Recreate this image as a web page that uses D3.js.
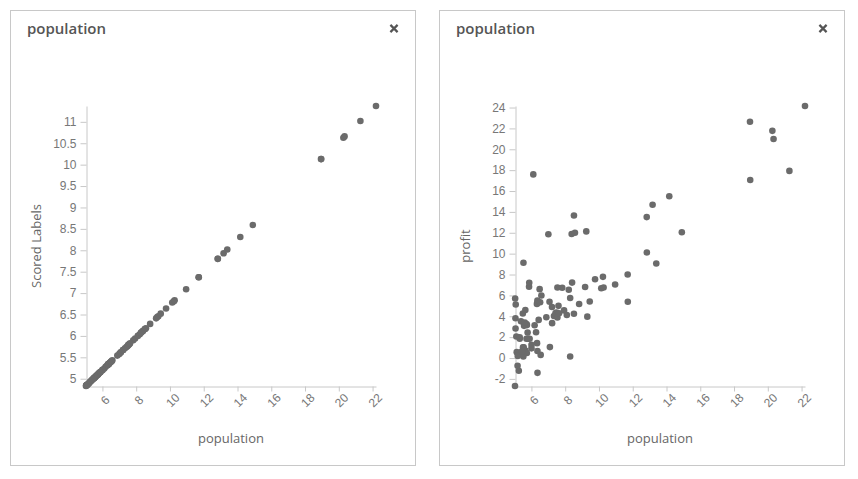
<!DOCTYPE html>
<html>
<head>
<meta charset="utf-8">
<script src="https://cdn.jsdelivr.net/npm/d3@7"></script>
<style>
  html, body { margin: 0; padding: 0; background: #fff; }
  svg { display: block; font-family: "Segoe UI", "Open Sans", "Noto Sans", sans-serif; }
</style>
</head>
<body>
<svg id="chart" width="858" height="479"></svg>
<script>
// ---- data ----
const population = [6.1101,5.5277,8.5186,7.0032,5.8598,8.3829,7.4764,8.5781,6.4862,5.0546,5.7107,14.164,5.734,8.4084,5.6407,5.3794,6.3654,5.1301,6.4296,7.0708,6.1891,20.27,5.4901,6.3261,5.5649,18.945,12.828,10.957,13.176,22.203,5.2524,6.5894,9.2482,5.8918,8.2111,7.9334,8.0959,5.6063,12.836,6.3534,5.4069,6.8825,11.708,5.7737,7.8247,7.0931,5.0702,5.8014,11.7,5.5416,7.5402,5.3077,7.4239,7.6031,6.3328,6.3589,6.2742,5.6397,9.3102,9.4536,8.8254,5.1793,21.279,14.908,18.959,7.2182,8.2951,10.236,5.4994,20.341,10.136,7.3345,6.0062,7.2259,5.0269,6.5479,7.5386,5.0365,10.274,5.1077,5.7292,5.1884,6.3557,9.7687,6.5159,8.5172,9.1802,6.002,5.5204,5.0594,5.7077,7.6366,5.8707,5.3054,8.2934,13.394,5.4369];
const profit = [17.592,9.1302,13.662,11.854,6.8233,11.886,4.3483,12,6.5987,3.8166,3.2522,15.505,3.1551,7.2258,0.71618,3.5129,5.3048,0.56077,3.6518,5.3893,3.1386,21.767,4.263,5.1875,3.0825,22.638,13.501,7.0467,14.692,24.147,-1.22,5.9966,12.134,1.8495,6.5426,4.5623,4.1164,3.3928,10.117,5.4974,0.55657,3.9115,5.3854,2.4406,6.7318,1.0463,5.1337,1.844,8.0043,1.0179,6.7504,1.8396,4.2885,4.9981,1.4233,-1.4211,2.4756,4.6042,3.9624,5.4141,5.1694,-0.74279,17.929,12.054,17.054,4.8852,5.7442,7.7754,1.0173,20.992,6.6799,4.0259,1.2784,3.3411,-2.6807,0.29678,3.8845,5.7014,6.7526,2.0576,0.47953,0.20421,0.67861,7.5435,5.3436,4.2415,6.7981,0.92695,0.152,2.8214,1.8451,4.2959,7.2029,1.9869,0.14454,9.0551,0.61705];
const scoredLabels = [5.24,5.02,6.16,5.58,5.15,6.11,5.76,6.18,5.39,4.84,5.09,8.31,5.10,6.12,5.07,4.97,5.34,4.87,5.37,5.61,5.28,10.63,5.01,5.33,5.04,10.13,7.80,7.09,7.93,11.37,4.92,5.43,6.44,5.16,6.04,5.94,6.00,5.05,7.80,5.34,4.98,5.54,7.37,5.12,5.90,5.62,4.85,5.13,7.37,5.03,5.79,4.94,5.74,5.81,5.33,5.34,5.31,5.07,6.46,6.52,6.28,4.89,11.02,8.59,10.13,5.67,6.08,6.81,5.01,10.66,6.78,5.71,5.21,5.67,4.83,5.41,5.79,4.84,6.83,4.86,5.10,4.89,5.34,6.64,5.40,6.16,6.41,5.20,5.02,4.85,5.09,5.83,5.15,4.94,6.08,8.02,4.99];

const xTicks = [6, 8, 10, 12, 14, 16, 18, 20, 22];
const yTicksScored = [5, 5.5, 6, 6.5, 7, 7.5, 8, 8.5, 9, 9.5, 10, 10.5, 11];
const yTicksProfit = [-2, 0, 2, 4, 6, 8, 10, 12, 14, 16, 18, 20, 22, 24];

const panels = [
  { ox: 10, title: "population", xLabel: "population", yLabel: "Scored Labels", y: scoredLabels, yTicks: yTicksScored },
  { ox: 439, title: "population", xLabel: "population", yLabel: "profit", y: profit, yTicks: yTicksProfit }
];

const svg = d3.select("#chart");

panels.forEach(p => {
  const g = svg.append("g").attr("transform", `translate(${p.ox},0)`);
  // panel frame
  g.append("rect").attr("x", 0.5).attr("y", 10.5).attr("width", 405).attr("height", 455)
    .attr("fill", "#fff").attr("stroke", "#c8c8c8").attr("stroke-width", 1);
  // title
  g.append("text").attr("x", 17).attr("y", 34).text(p.title)
    .attr("font-size", 15).attr("font-weight", 600).attr("fill", "#555");
  // close cross
  const cx = 384, cy = 28.5, s = 3.6;
  g.append("path").attr("d", `M${cx - s},${cy - s}L${cx + s},${cy + s}M${cx - s},${cy + s}L${cx + s},${cy - s}`)
    .attr("stroke", "#555").attr("stroke-width", 2.2).attr("fill", "none");

  const x = d3.scaleLinear().domain(d3.extent(population)).range([76, 366]);
  const y = d3.scaleLinear().domain(d3.extent(p.y)).range([386, 106]);

  // y axis
  const ya = g.append("g").attr("transform", "translate(76.5,0)")
    .call(d3.axisLeft(y).tickValues(p.yTicks).tickSize(6).tickPadding(4).tickSizeOuter(0).tickFormat(d => d));
  ya.select(".domain").attr("stroke", "#c8c8c8");
  ya.selectAll(".tick line").attr("stroke", "#c8c8c8");
  ya.selectAll(".tick text").attr("fill", "#777").attr("font-size", 12).attr("font-family", null);

  // x axis
  const xa = g.append("g").attr("transform", "translate(0,386.5)")
    .call(d3.axisBottom(x).tickValues(xTicks).tickSize(5).tickSizeOuter(0));
  xa.select(".domain").attr("stroke", "#c8c8c8");
  xa.selectAll(".tick line").attr("stroke", "#c8c8c8");
  xa.selectAll(".tick text").attr("fill", "#777").attr("font-size", 12).attr("font-family", null)
    .attr("text-anchor", "middle").attr("dy", null).attr("y", 0)
    .attr("transform", "translate(3,14.5) rotate(-45)")
    .attr("dominant-baseline", "middle");

  // axis titles
  g.append("text").attr("x", 221).attr("y", 443).attr("text-anchor", "middle")
    .attr("font-size", 13).attr("fill", "#666").text(p.xLabel);
  g.append("text").attr("transform", `translate(31,246) rotate(-90)`).attr("text-anchor", "middle")
    .attr("font-size", 13).attr("fill", "#666").text(p.yLabel);

  // points
  g.append("g").selectAll("circle").data(population).join("circle")
    .attr("cx", d => x(d)).attr("cy", (d, i) => y(p.y[i])).attr("r", 3.3)
    .attr("fill", "#6b6b6b");
});
</script>
</body>
</html>
